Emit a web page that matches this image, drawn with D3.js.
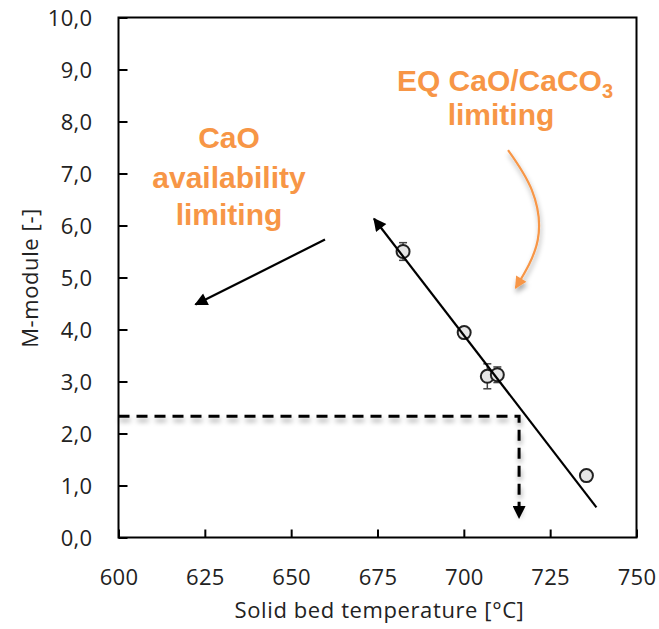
<!DOCTYPE html>
<html>
<head>
<meta charset="utf-8">
<script src="https://cdn.jsdelivr.net/npm/d3@7"></script>
<style>
  html, body { margin: 0; padding: 0; background: #fff; }
  svg { display: block; }
</style>
</head>
<body>
<script>
// ---- data ----
const temperature = [682.4, 700.1, 706.8, 709.7, 735.5];   // °C
const mModule     = [5.50, 3.94, 3.10, 3.13, 1.19];
const mError      = [0.17, 0.08, 0.24, 0.15, 0.06];
const fitLine     = [[738.4, 0.58], [674.0, 6.13]];          // trend arrow (start -> tip)
const cutoffLine  = [[600, 2.33], [716.0, 2.33], [716.0, 0.38]];
const cutoffArrowTip = [716.0, 0.38];
const caoArrow    = [[659.8, 5.73], [622.3, 4.48]];
const eqArrow     = [[712.8, 7.45], [719.7, 6.68], [721.4, 5.72], [715.0, 4.80]];
const xTicks = [600, 625, 650, 675, 700, 725, 750];
const yTicks = [0, 1, 2, 3, 4, 5, 6, 7, 8, 9, 10];
const xTitle = "Solid bed temperature [°C]";
const yTitle = "M-module [-]";
const orange = "#F79646";

const W = 659, H = 629;
const margin = {left: 118.5, right: 22.5, top: 17.5, bottom: 91.5};
const svg = d3.select("body").append("svg").attr("width", W).attr("height", H);

const defs = svg.append("defs");
const sh = defs.append("filter").attr("id", "shadow").attr("x", "-20%").attr("y", "-50%").attr("width", "140%").attr("height", "300%");
sh.append("feDropShadow").attr("dx", 1).attr("dy", 4).attr("stdDeviation", 2.5).attr("flood-color", "#000").attr("flood-opacity", 0.35);

function marker(id, color, w, h) {
  defs.append("marker").attr("id", id).attr("viewBox", "0 0 10 10").attr("refX", 9).attr("refY", 5)
    .attr("markerWidth", w).attr("markerHeight", h).attr("orient", "auto").attr("markerUnits", "userSpaceOnUse")
    .append("path").attr("d", "M0,0 L10,5 L0,10 z").attr("fill", color);
}
marker("arrB", "#000", 16, 13);
marker("arrO", orange, 14, 12);

const x = d3.scaleLinear().domain([600, 750]).range([margin.left, W - margin.right]);
const y = d3.scaleLinear().domain([0, 10]).range([H - margin.bottom, margin.top]);

const g = svg.append("g");
// plot frame
g.append("rect").attr("x", x(600)).attr("y", y(10)).attr("width", x(750) - x(600)).attr("height", y(0) - y(10))
  .attr("fill", "none").attr("stroke", "#000").attr("stroke-width", 2);

// axes
const font = "'Open Sans', 'DejaVu Sans', sans-serif";
const yAxis = g.append("g").attr("transform", `translate(${x(600)},0)`)
  .call(d3.axisRight(y).tickValues(yTicks).tickSize(9).tickFormat(d => d3.format(".1f")(d).replace(".", ",")));
yAxis.select(".domain").remove();
yAxis.selectAll(".tick line").attr("stroke", "#000").attr("stroke-width", 2);
yAxis.selectAll(".tick text").attr("x", -26).attr("text-anchor", "end").attr("dy", "0.36em")
  .attr("font-family", font).attr("font-size", 22).attr("letter-spacing", 0.3).attr("fill", "#222");

const xAxis = g.append("g").attr("transform", `translate(0,${y(0)})`)
  .call(d3.axisTop(x).tickValues(xTicks).tickSize(8).tickFormat(d3.format("d")));
xAxis.select(".domain").remove();
xAxis.selectAll(".tick line").attr("stroke", "#000").attr("stroke-width", 2);
xAxis.selectAll(".tick text").attr("y", 47).attr("dy", 0)
  .attr("font-family", font).attr("font-size", 22).attr("letter-spacing", 0.3).attr("fill", "#222");

svg.append("text").attr("x", (x(600) + x(750)) / 2 + 2).attr("y", 618).attr("text-anchor", "middle")
  .attr("font-family", font).attr("font-size", 22).attr("letter-spacing", 0.6).attr("fill", "#222").text(xTitle);
svg.append("text").attr("transform", `translate(38,278) rotate(-90)`).attr("text-anchor", "middle")
  .attr("font-family", font).attr("font-size", 22).attr("letter-spacing", 0.6).attr("fill", "#222").text(yTitle);

const line = d3.line().x(d => x(d[0])).y(d => y(d[1]));

// dashed cutoff line with shadow
g.append("path").attr("d", line(cutoffLine)).attr("fill", "none").attr("stroke", "#000")
  .attr("stroke-width", 3).attr("stroke-dasharray", "11,7").attr("filter", "url(#shadow)");
g.append("path").attr("d", line([[cutoffArrowTip[0], cutoffArrowTip[1] + 0.3], cutoffArrowTip]))
  .attr("stroke", "none").attr("fill", "none").attr("marker-end", "url(#arrB)");

// error bars
const eb = g.append("g").attr("stroke", "#444").attr("stroke-width", 1.5);
temperature.forEach((t, i) => {
  const cx = x(t);
  eb.append("line").attr("x1", cx).attr("x2", cx).attr("y1", y(mModule[i] - mError[i])).attr("y2", y(mModule[i] + mError[i]));
  [mModule[i] - mError[i], mModule[i] + mError[i]].forEach(v =>
    eb.append("line").attr("x1", cx - 4).attr("x2", cx + 4).attr("y1", y(v)).attr("y2", y(v)));
});

// points
g.append("g").selectAll("circle").data(temperature).join("circle")
  .attr("cx", d => x(d)).attr("cy", (d, i) => y(mModule[i])).attr("r", 6.5)
  .attr("fill", "#e6e6e6").attr("stroke", "#222").attr("stroke-width", 2);

// trend line arrow
g.append("path").attr("d", line(fitLine)).attr("fill", "none").attr("stroke", "#000")
  .attr("stroke-width", 2.2).attr("marker-end", "url(#arrB)");

// CaO arrow
g.append("path").attr("d", line(caoArrow)).attr("fill", "none").attr("stroke", "#000")
  .attr("stroke-width", 2.2).attr("marker-end", "url(#arrB)");

// orange curved arrow
const curve = d3.line().x(d => x(d[0])).y(d => y(d[1])).curve(d3.curveNatural);
g.append("path").attr("d", curve(eqArrow)).attr("fill", "none").attr("stroke", orange)
  .attr("stroke-width", 2.2).attr("marker-end", "url(#arrO)").attr("filter", "url(#shadow)");

// annotations
const bold = "'Liberation Sans', Arial, sans-serif";
const t1 = svg.append("text").attr("text-anchor", "middle").attr("font-family", bold).attr("font-weight", "bold")
  .attr("font-size", 30).attr("fill", orange);
[["CaO", 148], ["availability", 188], ["limiting", 225]].forEach(([s, yy]) =>
  t1.append("tspan").attr("x", 229).attr("y", yy).text(s));

const t2 = svg.append("text").attr("text-anchor", "middle").attr("font-family", bold).attr("font-weight", "bold")
  .attr("font-size", 30).attr("fill", orange).attr("x", 505).attr("y", 91);
t2.append("tspan").text("EQ CaO/CaCO");
t2.append("tspan").attr("font-size", 20).attr("dy", 7).text("3");
svg.append("text").attr("text-anchor", "middle").attr("font-family", bold).attr("font-weight", "bold")
  .attr("font-size", 30).attr("fill", orange).attr("x", 501).attr("y", 125).text("limiting");
</script>
</body>
</html>
